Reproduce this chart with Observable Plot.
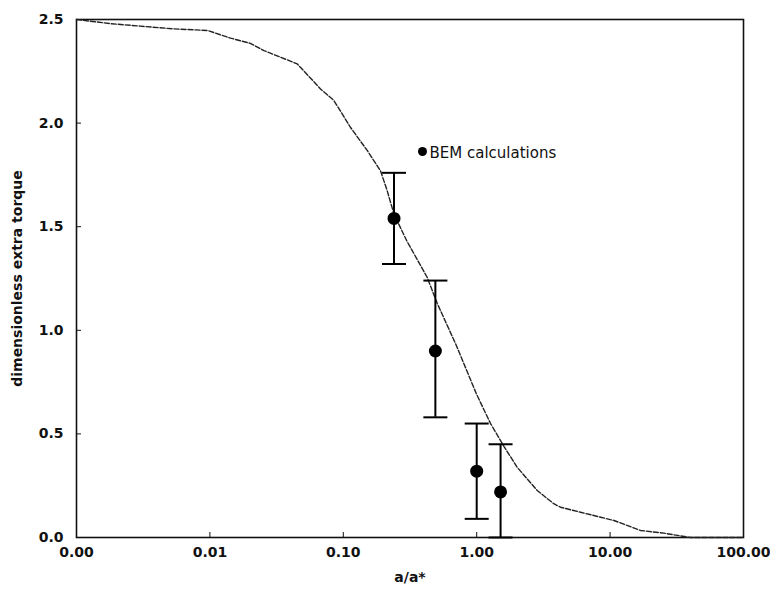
<!DOCTYPE html>
<html>
<head>
<meta charset="utf-8">
<script src="https://cdn.jsdelivr.net/npm/d3@7"></script>
<script src="https://cdn.jsdelivr.net/npm/@observablehq/plot@0.6"></script>
<style>
  html, body { margin: 0; padding: 0; background: #fff; }
  #chart svg { display: block; }
</style>
</head>
<body>
<div id="chart"></div>
<script>
// Theoretical curve
const curveX = [0.001, 0.0018, 0.003, 0.0053, 0.0096, 0.0143, 0.0201, 0.0254, 0.0451, 0.0675, 0.085, 0.113, 0.151, 0.19, 0.213, 0.24, 0.3, 0.425, 0.506, 0.7, 1.0, 1.27, 1.6, 2.01, 2.84, 3.78, 4.25, 6.0, 10.7, 16.9, 25.3, 40, 100];
const curveY = [2.50, 2.48, 2.468, 2.455, 2.447, 2.41, 2.385, 2.35, 2.286, 2.165, 2.109, 1.98, 1.868, 1.77, 1.675, 1.56, 1.43, 1.256, 1.13, 0.93, 0.69, 0.55, 0.44, 0.339, 0.227, 0.163, 0.146, 0.122, 0.082, 0.034, 0.021, 0.0, 0.0];

// BEM calculations with error bars
const bemX = [0.24, 0.49, 1.0, 1.51];
const bemY = [1.54, 0.90, 0.32, 0.22];
const bemLow = [1.32, 0.58, 0.09, 0.0];
const bemHigh = [1.76, 1.24, 0.55, 0.45];

// Ticks
const xTicks = [0.001, 0.01, 0.1, 1, 10, 100];
const xTickLabels = ["0.00", "0.01", "0.10", "1.00", "10.00", "100.00"];
const yTicks = [0, 0.5, 1.0, 1.5, 2.0, 2.5];

const legendLabel = "BEM calculations";
const xLabel = "a/a*";
const yLabel = "dimensionless extra torque";

const curve = curveX.map((x, i) => ({x, y: curveY[i]}));
const bem = bemX.map((x, i) => ({x, y: bemY[i], lo: bemLow[i], hi: bemHigh[i]}));

// horizontal line symbol for error-bar caps
const capSymbol = {
  draw(context, size) {
    const w = Math.sqrt(size / Math.PI);
    context.moveTo(-w, 0);
    context.lineTo(w, 0);
  }
};

const font = "DejaVu Sans, Liberation Sans, sans-serif";

const chart = Plot.plot({
  width: 770,
  height: 590,
  marginLeft: 76,
  marginRight: 27,
  marginTop: 19,
  marginBottom: 53,
  style: {fontFamily: font, fontSize: "14px", color: "#111", background: "#fff"},
  x: {type: "log", domain: [0.001, 100]},
  y: {domain: [0, 2.5]},
  marks: [
    Plot.frame({stroke: "#111", strokeWidth: 1.6}),
    Plot.axisX({
      ticks: xTicks,
      tickFormat: (d) => xTickLabels[xTicks.indexOf(d)],
      tickSize: -5,
      tickPadding: 15,
      fontWeight: "bold",
      label: xLabel,
      labelAnchor: "center",
      labelOffset: 44,
      labelArrow: "none"
    }),
    Plot.axisY({
      ticks: yTicks,
      tickFormat: (d) => d.toFixed(1),
      tickSize: -5,
      tickPadding: 18,
      fontWeight: "bold",
      label: yLabel,
      labelAnchor: "center",
      labelOffset: 64,
      labelArrow: "none"
    }),
    Plot.line(curve, {x: "x", y: "y", stroke: "#222", strokeWidth: 1.4, strokeDasharray: "5,2", curve: "linear"}),
    Plot.ruleX(bem, {x: "x", y1: "lo", y2: "hi", stroke: "#000", strokeWidth: 2}),
    Plot.dot(bem, {x: "x", y: "hi", symbol: capSymbol, r: 12, stroke: "#000", strokeWidth: 2, fill: "none"}),
    Plot.dot(bem, {x: "x", y: "lo", symbol: capSymbol, r: 12, stroke: "#000", strokeWidth: 2, fill: "none"}),
    Plot.dot(bem, {x: "x", y: "y", r: 6.5, fill: "#000", stroke: "none"}),
    // legend inside the plot
    Plot.dot([legendLabel], {frameAnchor: "top-left", dx: 346, dy: 132, r: 4.5, fill: "#000", stroke: "none"}),
    Plot.text([legendLabel], {frameAnchor: "top-left", dx: 353, dy: 128, text: (d) => d, textAnchor: "start", fontSize: 15, fill: "#111"})
  ]
});

document.getElementById("chart").appendChild(chart);
</script>
</body>
</html>
